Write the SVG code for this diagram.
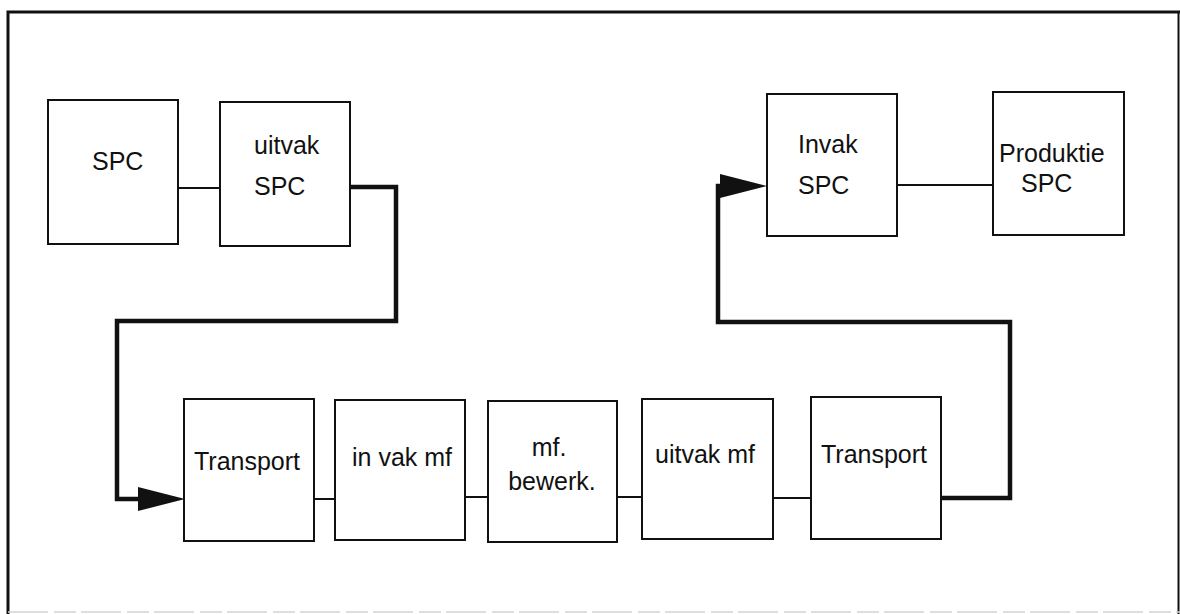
<svg xmlns="http://www.w3.org/2000/svg" width="1180" height="614" viewBox="0 0 1180 614">
  <style>
    .box { fill: #ffffff; stroke: #111111; stroke-width: 2; }
    .lbl { font-family: "Liberation Sans", Arial, sans-serif; font-size: 25px; fill: #111111; }
    .mid { text-anchor: middle; }
    .link { fill: none; stroke: #111111; stroke-width: 2; }
    .flow { fill: none; stroke: #111111; stroke-width: 4.5; stroke-linejoin: miter; }
    .frame { fill: none; stroke: #111111; stroke-width: 3; }
  </style>
  <defs>
    <marker id="arrow" markerUnits="userSpaceOnUse" markerWidth="48" markerHeight="26" refX="0" refY="12" orient="auto">
      <path d="M0,0 L47,12 L0,24 Z" fill="#111111"/>
    </marker>
  </defs>

  <rect width="1180" height="614" fill="#ffffff"/>

  <!-- page frame -->
  <g id="frame">
    <path class="frame" d="M8,614 V12 H1180"/>
    <line x1="1178.5" y1="12" x2="1178.5" y2="614" stroke="#111111" stroke-width="2"/>
    <line x1="8" y1="612" x2="1180" y2="612" stroke="#d4d4d4" stroke-width="1.5" stroke-dasharray="40 6 22 5"/>
  </g>

  <!-- connectors -->
  <g id="connectors">
    <line class="link" x1="178" y1="188" x2="220" y2="188"/>
    <line class="link" x1="897" y1="185" x2="993" y2="185"/>
    <line class="link" x1="314" y1="499" x2="335" y2="499"/>
    <line class="link" x1="465" y1="497" x2="488" y2="497"/>
    <line class="link" x1="617" y1="497" x2="642" y2="497"/>
    <line class="link" x1="773" y1="498" x2="811" y2="498"/>
    <!-- uitvak SPC to Transport -->
    <path class="flow" d="M350,187 H396 V321 H117 V499 H138" marker-end="url(#arrow)"/>
    <!-- Transport to Invak SPC -->
    <path class="flow" d="M941,498 H1010 V322 H718 V186 H720" marker-end="url(#arrow)"/>
  </g>

  <g id="spc">
    <rect class="box" x="48" y="100" width="130" height="144"/>
    <text class="lbl" x="92" y="170">SPC</text>
  </g>

  <g id="uitvak-spc">
    <rect class="box" x="220" y="102" width="130" height="144"/>
    <text class="lbl" x="254" y="154">uitvak</text>
    <text class="lbl" x="254" y="195">SPC</text>
  </g>

  <g id="invak-spc">
    <rect class="box" x="767" y="94" width="130" height="142"/>
    <text class="lbl" x="798" y="153">Invak</text>
    <text class="lbl" x="798" y="194">SPC</text>
  </g>

  <g id="produktie-spc">
    <rect class="box" x="993" y="92" width="131" height="143"/>
    <text class="lbl" x="999" y="162">Produktie</text>
    <text class="lbl" x="1021" y="192">SPC</text>
  </g>

  <g id="transport-in">
    <rect class="box" x="184" y="399" width="130" height="142"/>
    <text class="lbl mid" x="247" y="470">Transport</text>
  </g>

  <g id="invak-mf">
    <rect class="box" x="335" y="400" width="130" height="140"/>
    <text class="lbl mid" x="402" y="466">in vak mf</text>
  </g>

  <g id="mf-bewerk">
    <rect class="box" x="488" y="401" width="129" height="141"/>
    <text class="lbl mid" x="549" y="456">mf.</text>
    <text class="lbl mid" x="552" y="490">bewerk.</text>
  </g>

  <g id="uitvak-mf">
    <rect class="box" x="642" y="399" width="131" height="140"/>
    <text class="lbl mid" x="705" y="463">uitvak mf</text>
  </g>

  <g id="transport-out">
    <rect class="box" x="811" y="397" width="130" height="142"/>
    <text class="lbl mid" x="874" y="463">Transport</text>
  </g>
</svg>
